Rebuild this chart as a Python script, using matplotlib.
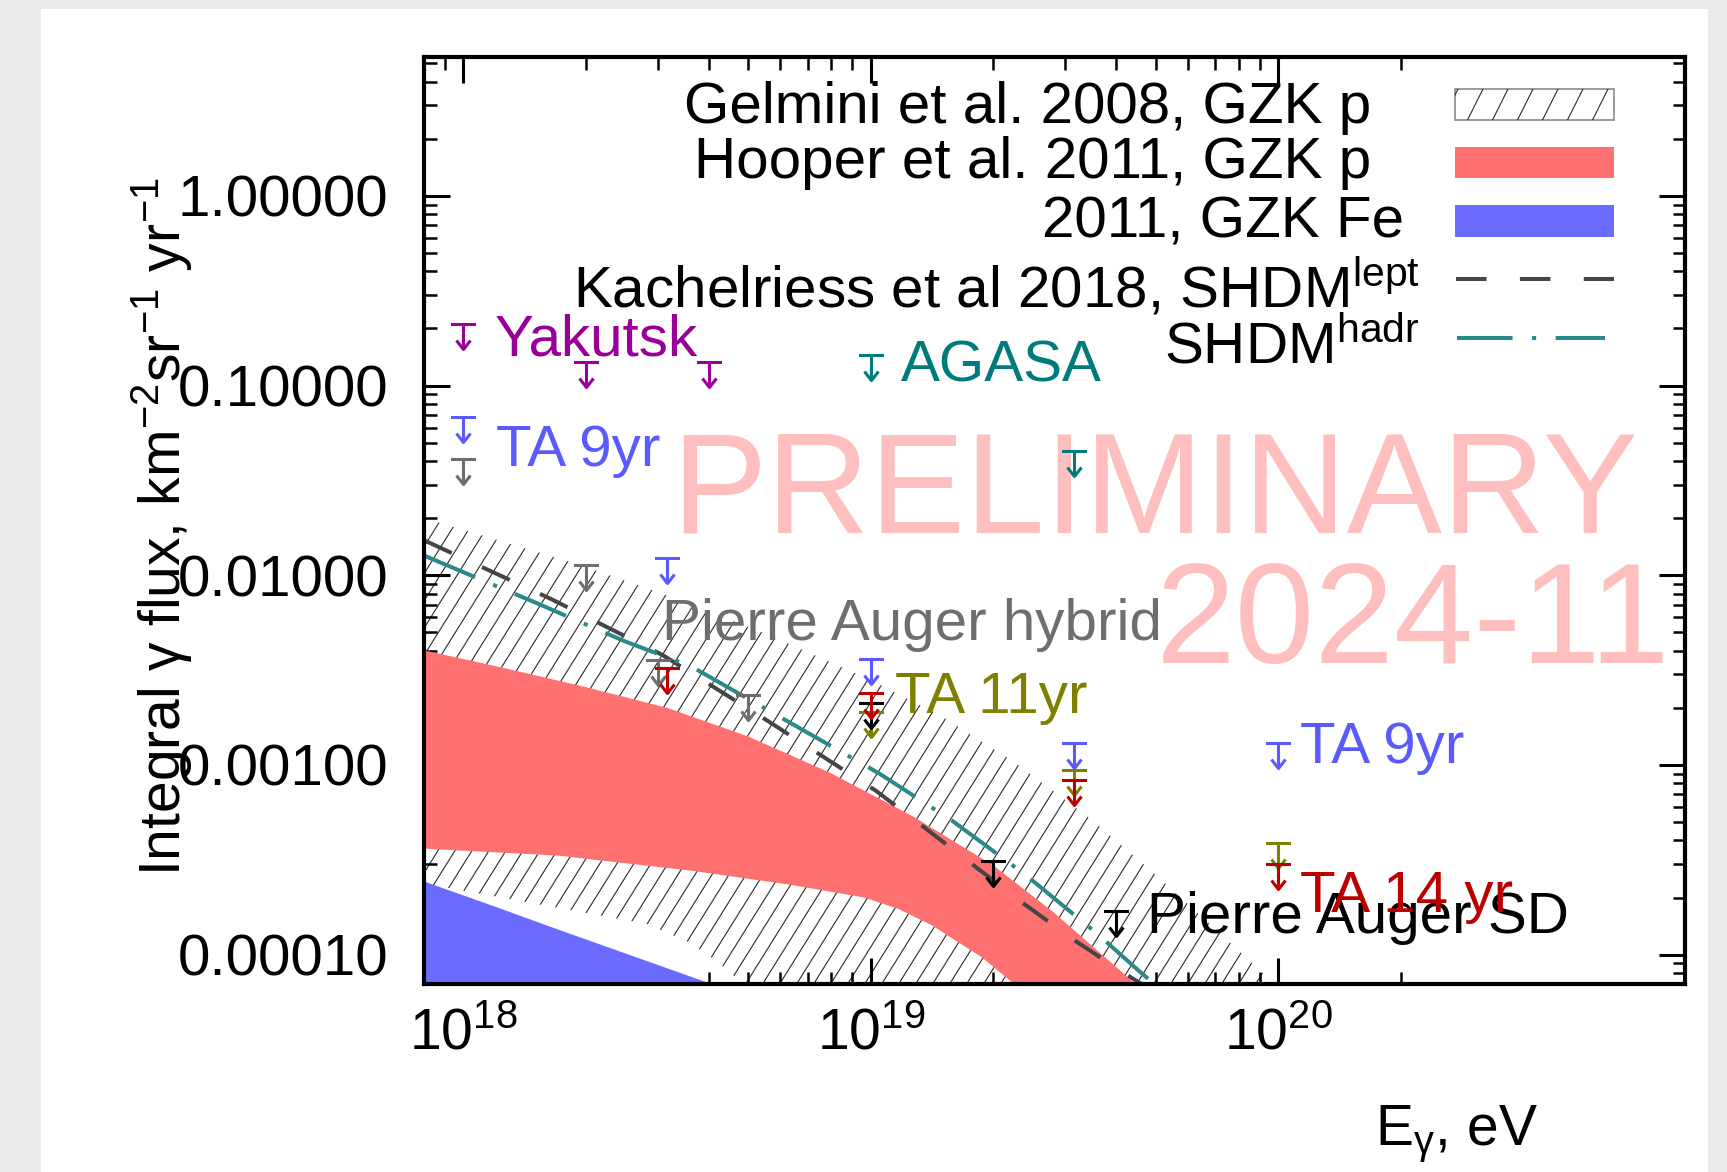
import numpy as np
import matplotlib

matplotlib.use("Agg")
import matplotlib.pyplot as plt
from matplotlib.collections import LineCollection
from matplotlib.patches import Rectangle
from matplotlib.path import Path
from matplotlib.ticker import FixedLocator, FuncFormatter, LogLocator, NullFormatter

plt.rcParams["font.family"] = ["Liberation Sans", "DejaVu Sans"]
plt.rcParams["mathtext.default"] = "regular"
plt.rcParams["lines.scale_dashes"] = False

W, H = 1727, 1172
AX_L, AX_R, AX_T, AX_B = 424, 1685, 57, 984

# E in eV, integral photon flux in km^-2 sr^-1 yr^-1
# Gelmini et al. 2008, GZK p (band)
gelmini_up_e = [8.0e17, 1.17e18, 1.87e18, 3.24e18, 5.66e18, 9.98e18, 1.49e19,
                2.25e19, 3.48e19, 4.97e19, 7.36e19, 9.25e19, 1.01e20]
gelmini_up_f = [2.0e-2, 1.57e-2, 1.16e-2, 7.7e-3, 4.81e-3, 2.81e-3, 1.81e-3,
                1.035e-3, 5.16e-4, 2.67e-4, 1.24e-4, 7.85e-5, 6.56e-5]
gelmini_lo_e = [8.0e17, 1.49e18, 2.06e18, 2.82e18, 3.55e18, 4.17e18, 4.90e18, 5.62e18]
gelmini_lo_f = [2.37e-4, 1.86e-4, 1.64e-4, 1.45e-4, 1.17e-4, 9.3e-5, 6.9e-5, 5.4e-5]

# Hooper et al. 2011, GZK p (band)
hooper_p_up_e = [8.0e17, 1.26e18, 2.0e18, 3.16e18, 5.01e18, 7.94e18, 1.26e19,
                 2.0e19, 2.82e19, 3.98e19, 5.01e19]
hooper_p_up_f = [4.02e-3, 3.24e-3, 2.57e-3, 2.0e-3, 1.41e-3, 9.1e-4, 5.4e-4,
                 2.95e-4, 1.66e-4, 8.7e-5, 5.6e-5]
hooper_p_lo_e = [8.0e17, 1.70e18, 3.63e18, 6.31e18, 9.64e18, 1.17e19, 1.41e19,
                 1.87e19, 2.25e19, 2.46e19]
hooper_p_lo_f = [3.62e-4, 3.33e-4, 2.77e-4, 2.34e-4, 2.0e-4, 1.74e-4, 1.43e-4,
                 9.7e-5, 7.0e-5, 5.7e-5]

# Hooper et al. 2011, GZK Fe (upper edge)
hooper_fe_e = [8.0e17, 1.17e18, 1.70e18, 2.48e18, 4.06e18, 5.01e18]
hooper_fe_f = [2.43e-4, 1.82e-4, 1.36e-4, 1.02e-4, 7.0e-5, 5.97e-5]

# Kachelriess et al 2018, SHDM
shdm_lept_e = [8.0e17, 1.64e18, 3.08e18, 5.6e18, 1.03e19, 1.35e19, 1.79e19,
               2.37e19, 3.16e19, 4.26e19, 5.0e19]
shdm_lept_f = [1.53e-2, 7.5e-3, 3.8e-3, 1.70e-3, 7.3e-4, 4.7e-4, 2.95e-4,
               1.86e-4, 1.19e-4, 7.8e-5, 6.3e-5]
shdm_hadr_e = [8.0e17, 1.52e18, 2.48e18, 3.63e18, 1.05e19, 1.58e19, 2.41e19,
               3.61e19, 4.44e19, 5.25e19]
shdm_hadr_f = [1.27e-2, 7.1e-3, 4.5e-3, 3.3e-3, 9.0e-4, 5.1e-4, 2.61e-4,
               1.28e-4, 8.6e-5, 6.3e-5]

# upper limits
yakutsk_e = [1e18, 2e18, 4e18]
yakutsk_f = [0.21, 0.133, 0.133]
agasa_e = [1e19, 3.16e19]
agasa_f = [0.145, 0.045]
ta9_e = [1e18, 3.16e18, 1e19, 3.16e19, 1e20]
ta9_f = [0.068, 0.0124, 0.0036, 0.0013, 0.0013]
ta11_e = [1e19, 3.16e19, 1e20]
ta11_f = [0.0019, 9.4e-4, 3.9e-4]
ta14_e = [3.16e18, 1e19, 3.16e19, 1e20]
ta14_f = [0.00323, 0.0024, 8.3e-4, 3.0e-4]
auger_hyb_e = [1e18, 2e18, 3e18, 5e18]
auger_hyb_f = [0.041, 0.0113, 0.00356, 0.00233]
auger_sd_e = [1e19, 2e19, 4e19]
auger_sd_f = [0.00211, 3.1e-4, 1.7e-4]

C_YAK = "#990099"
C_AGASA = "#007b7b"
C_TA9 = "#5a5aff"
C_TA11 = "#7f7f00"
C_TA14 = "#bb0000"
C_HYB = "#6e6e6e"
C_SD = "#000000"
C_RED = "#ff7070"
C_BLUE = "#6b6bff"
C_LEPT = "#454545"
C_HADR = "#2a8a8a"

UL_MARKER = Path(
    [(-0.5, 0), (0.5, 0), (0, 0), (0, -1), (-0.28, -0.64), (0, -1), (0.28, -0.64)],
    [Path.MOVETO, Path.LINETO, Path.MOVETO, Path.LINETO, Path.MOVETO, Path.LINETO, Path.LINETO],
)
LEPT_LS = (0, (22, 24))
HADR_LS = (0, (40, 14, 3, 14))


def ax_px(x, y):
    return (x - AX_L) / (AX_R - AX_L), (AX_B - y) / (AX_B - AX_T)


def hatch_patch(ax, patch, step_px, slope, color, lw, zorder):
    w_px = AX_R - AX_L
    h_px = AX_B - AX_T
    run = h_px / slope
    starts = np.arange(-run, w_px + step_px, step_px)
    segs = [[(s / w_px, 0.0), ((s + run) / w_px, 1.0)] for s in starts]
    lc = LineCollection(segs, colors=color, linewidths=lw, transform=ax.transAxes, zorder=zorder)
    ax.add_collection(lc, autolim=False)
    lc.set_clip_path(patch)
    return lc


def upper_limits(ax, e, f, color):
    ax.plot(e, f, ls="none", marker=UL_MARKER, ms=36, mfc="none", mec=color, mew=2.2, zorder=6)


def label(ax, x, y, s, color, size=42, **kw):
    ax.text(*ax_px(x, y), s, transform=ax.transAxes, color=color, fontsize=size,
            va="baseline", zorder=7, **kw)


fig = plt.figure(figsize=(W / 100, H / 100), dpi=100)
fig.patch.set_facecolor("#ebebeb")
fig.add_artist(Rectangle((41 / W, 0), (1708 - 41) / W, (H - 9) / H, transform=fig.transFigure,
                         facecolor="white", edgecolor="none", zorder=-10))

ax = fig.add_axes([AX_L / W, 1 - AX_B / H, (AX_R - AX_L) / W, (AX_B - AX_T) / H])
ax.set_xscale("log")
ax.set_yscale("log")
ax.set_xlim(8.0e17, 9.97e20)
ax.set_ylim(7.0e-5, 5.4)

# bands
gel = ax.fill(gelmini_up_e + gelmini_lo_e[::-1], gelmini_up_f + gelmini_lo_f[::-1],
              facecolor="none", edgecolor="none", zorder=1)[0]
hatch_patch(ax, gel, 17, 1.6, "#2a2a2a", 0.8, 1)
ax.fill(hooper_p_up_e + hooper_p_lo_e[::-1], hooper_p_up_f + hooper_p_lo_f[::-1],
        facecolor=C_RED, edgecolor="none", zorder=2)
ax.fill_between(hooper_fe_e, hooper_fe_f, 1e-6, facecolor=C_BLUE, edgecolor="none", zorder=2)

ax.plot(shdm_lept_e, shdm_lept_f, color=C_LEPT, lw=2.9, ls=LEPT_LS, zorder=3)
ax.plot(shdm_hadr_e, shdm_hadr_f, color=C_HADR, lw=2.9, ls=HADR_LS, zorder=3)

# watermark
ax.text(*ax_px(1155, 533), "PRELIMINARY", transform=ax.transAxes, ha="center", va="baseline",
        fontsize=103, color="#ffbfbf", zorder=1.5)
ax.text(*ax_px(1413, 663), "2024-11", transform=ax.transAxes, ha="center", va="baseline",
        fontsize=103, color="#ffbfbf", zorder=1.5)

# upper limits
upper_limits(ax, auger_hyb_e, auger_hyb_f, C_HYB)
upper_limits(ax, ta11_e, ta11_f, C_TA11)
upper_limits(ax, auger_sd_e, auger_sd_f, C_SD)
upper_limits(ax, ta14_e, ta14_f, C_TA14)
upper_limits(ax, ta9_e, ta9_f, C_TA9)
upper_limits(ax, yakutsk_e, yakutsk_f, C_YAK)
upper_limits(ax, agasa_e, agasa_f, C_AGASA)

label(ax, 495, 356, "Yakutsk", C_YAK)
label(ax, 901, 382, "AGASA", C_AGASA)
label(ax, 496, 466, "TA 9yr", C_TA9)
label(ax, 662, 640, "Pierre Auger hybrid", C_HYB)
label(ax, 895, 713, "TA 11yr", C_TA11)
label(ax, 1300, 763, "TA 9yr", C_TA9)
label(ax, 1147, 933, "Pierre Auger SD", C_SD)
label(ax, 1300, 912, "TA 14 yr", C_TA14)

# legend
label(ax, 1371, 123, "Gelmini et al. 2008, GZK p", "black", ha="right")
label(ax, 1371, 178, "Hooper et al. 2011, GZK p", "black", ha="right")
label(ax, 1404, 238, "2011, GZK Fe", "black", ha="right")
label(ax, 1420, 307, "Kachelriess et al 2018, SHDM$^{lept}$", "black", ha="right")
label(ax, 1420, 363, "SHDM$^{hadr}$", "black", ha="right")

x0, y0 = ax_px(1455, 120)
x1, y1 = ax_px(1614, 89)
hbox = Rectangle((x0, y0), x1 - x0, y1 - y0, transform=ax.transAxes, facecolor="white",
                 edgecolor="#8a8a8a", lw=1.2, zorder=5)
ax.add_patch(hbox)
hatch_patch(ax, hbox, 25, 2.0, "#2a2a2a", 0.8, 5)
for top, bot, col in ((147, 178, C_RED), (205, 237, C_BLUE)):
    x0, y0 = ax_px(1455, bot)
    x1, y1 = ax_px(1614, top)
    ax.add_patch(Rectangle((x0, y0), x1 - x0, y1 - y0, transform=ax.transAxes,
                           facecolor=col, edgecolor="none", zorder=5))
lx0, ly = ax_px(1456, 279)
lx1, _ = ax_px(1614, 279)
ax.plot([lx0, lx1], [ly, ly], transform=ax.transAxes, color=C_LEPT, lw=2.9, ls=LEPT_LS, zorder=5)
lx0, ly = ax_px(1457, 338)
lx1, _ = ax_px(1605, 338)
ax.plot([lx0, lx1], [ly, ly], transform=ax.transAxes, color=C_HADR, lw=2.9, ls=HADR_LS, zorder=5)

# axes style
for sp in ax.spines.values():
    sp.set_linewidth(3)
    sp.set_zorder(8)
ax.xaxis.set_major_locator(FixedLocator([1e18, 1e19, 1e20]))
ax.xaxis.set_major_formatter(FuncFormatter(lambda v, p: f"$10^{{{int(round(np.log10(v)))}}}$"))
x_minor = [9e17] + [k * 1e18 for k in range(2, 10)] + [k * 1e19 for k in range(2, 10)] + [2e20]
ax.xaxis.set_minor_locator(FixedLocator(x_minor))
ax.xaxis.set_minor_formatter(NullFormatter())
ax.yaxis.set_major_locator(LogLocator(base=10, numticks=20))
ax.yaxis.set_minor_locator(LogLocator(base=10, subs=range(2, 10), numticks=50))
ax.yaxis.set_major_formatter(FuncFormatter(lambda v, p: f"{v:.5f}"))
ax.yaxis.set_minor_formatter(NullFormatter())
ax.tick_params(which="both", direction="in", top=True, right=True, colors="black")
ax.tick_params(which="major", length=19, width=2.2)
ax.tick_params(which="minor", length=9, width=1.8)
ax.tick_params(axis="y", which="major", pad=26, labelsize=42)
ax.tick_params(axis="x", which="major", pad=17, labelsize=41)

fig.text(1538 / W, 1 - 1145 / H, "E$_{γ}$, eV", ha="right", va="baseline", fontsize=41)
fig.text(162 / W, 1 - 527 / H, "Integral γ flux, km$^{-2}$sr$^{-1}$ yr$^{-1}$",
         rotation=90, ha="center", va="center", fontsize=41)

fig.savefig("out.png", dpi=100)
